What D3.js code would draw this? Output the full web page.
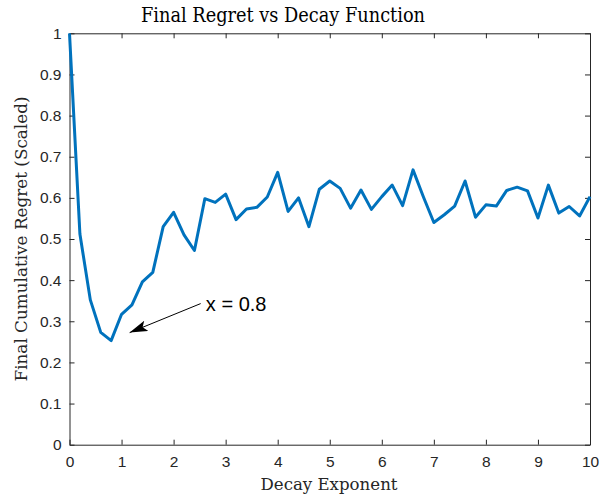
<!DOCTYPE html>
<html>
<head>
<meta charset="utf-8">
<script src="https://cdn.jsdelivr.net/npm/d3@7"></script>
<style>
    body { margin: 0; background: #fff; }
    svg { display: block; }
</style>
</head>
<body>
<svg id="chart" width="613" height="497"></svg>
<script>
// decay exponents (step 0.2) and scaled final regret
const exponents = d3.range(51).map(i => +(i * 0.2).toFixed(1));
const regret = [
    1.000, 0.512, 0.352, 0.273, 0.253, 0.317, 0.340, 0.396, 0.419, 0.530,
    0.565, 0.510, 0.472, 0.598, 0.589, 0.609, 0.547, 0.573, 0.577, 0.602,
    0.662, 0.567, 0.600, 0.530, 0.621, 0.641, 0.623, 0.575, 0.619, 0.572,
    0.603, 0.631, 0.581, 0.668, 0.602, 0.540, 0.559, 0.580, 0.641, 0.553,
    0.583, 0.580, 0.618, 0.626, 0.617, 0.551, 0.631, 0.563, 0.579, 0.556,
    0.603,
];
const xTicks = d3.range(0, 11, 1);
const yTicks = d3.range(0, 11).map(i => +(i / 10).toFixed(1));
const annotation = { text: 'x = 0.8', x: 0.8 };

const svg = d3.select('#chart');
const margin = { left: 69.5, right: 23, top: 33.3, bottom: 52.3 };
const width = 613 - margin.left - margin.right;
const height = 497 - margin.top - margin.bottom;

const x = d3.scaleLinear().domain([0, 10]).range([0, width]);
const y = d3.scaleLinear().domain([0, 1]).range([height, 0]);

const g = svg.append('g')
    .attr('transform', `translate(${margin.left},${margin.top})`);

const axisColor = '#262626';
const tickFont = "'Liberation Sans', Arial, sans-serif";
const serif = "'DejaVu Serif', 'Liberation Serif', serif";

// ticks point inward, box on all four sides
function styleAxis(sel) {
    sel.select('.domain').attr('stroke', axisColor).attr('stroke-width', 1);
    sel.selectAll('.tick line').attr('stroke', axisColor);
    sel.selectAll('.tick text')
        .attr('fill', axisColor)
        .attr('font-family', tickFont)
        .attr('font-size', 15.5);
}

g.append('g')
    .attr('transform', `translate(0,${height})`)
    .call(d3.axisBottom(x).tickValues(xTicks).tickSize(-5).tickSizeOuter(0).tickPadding(11).tickFormat(d3.format('d')))
    .call(styleAxis);
g.append('g')
    .call(d3.axisTop(x).tickValues(xTicks).tickSize(-5).tickSizeOuter(0).tickFormat(''))
    .call(styleAxis);
g.append('g')
    .call(d3.axisLeft(y).tickValues(yTicks).tickSize(-5).tickSizeOuter(0).tickPadding(8).tickFormat(d => (d === 0 || d === 1) ? d3.format('d')(d) : d3.format('.1f')(d)))
    .call(styleAxis);
g.append('g')
    .attr('transform', `translate(${width},0)`)
    .call(d3.axisRight(y).tickValues(yTicks).tickSize(-5).tickSizeOuter(0).tickFormat(''))
    .call(styleAxis);

const line = d3.line()
    .x((d, i) => x(exponents[i]))
    .y(d => y(d));

g.append('path')
    .datum(regret)
    .attr('fill', 'none')
    .attr('stroke', '#0072BD')
    .attr('stroke-width', 3)
    .attr('stroke-linejoin', 'round')
    .attr('d', line);

// text arrow pointing at the minimum
svg.append('defs').append('marker')
    .attr('id', 'head')
    .attr('viewBox', '0 0 18 11')
    .attr('refX', 18)
    .attr('refY', 5.5)
    .attr('markerWidth', 18)
    .attr('markerHeight', 11)
    .attr('markerUnits', 'userSpaceOnUse')
    .attr('orient', 'auto')
    .append('path')
    .attr('d', 'M0,0 L18,5.5 L0,11 L4,5.5 Z')
    .attr('fill', '#000');

const minY = regret[exponents.indexOf(annotation.x)];
const tipX = x(annotation.x) + 18.5;
const tipY = y(minY) - 8;
g.append('line')
    .attr('x1', x(2.52))
    .attr('y1', y(0.343))
    .attr('x2', tipX)
    .attr('y2', tipY)
    .attr('stroke', '#000')
    .attr('stroke-width', 1)
    .attr('marker-end', 'url(#head)');
g.append('text')
    .attr('x', x(2.62))
    .attr('y', y(0.343))
    .attr('dy', '0.36em')
    .attr('font-family', tickFont)
    .attr('font-size', 20)
    .attr('fill', '#000')
    .text(annotation.text);

svg.append('text')
    .attr('x', 283)
    .attr('y', 22)
    .attr('text-anchor', 'middle')
    .attr('font-family', serif)
    .attr('font-size', 20)
    .attr('fill', '#000')
    .attr('textLength', 284)
    .attr('lengthAdjust', 'spacingAndGlyphs')
    .text('Final Regret vs Decay Function');

svg.append('text')
    .attr('x', 329)
    .attr('y', 490)
    .attr('text-anchor', 'middle')
    .attr('font-family', serif)
    .attr('font-size', 16)
    .attr('fill', axisColor)
    .attr('textLength', 137)
    .attr('lengthAdjust', 'spacingAndGlyphs')
    .text('Decay Exponent');

svg.append('text')
    .attr('transform', `translate(27,${margin.top + height / 2}) rotate(-90)`)
    .attr('text-anchor', 'middle')
    .attr('font-family', serif)
    .attr('font-size', 16)
    .attr('fill', axisColor)
    .attr('textLength', 285)
    .attr('lengthAdjust', 'spacingAndGlyphs')
    .text('Final Cumulative Regret (Scaled)');
</script>
</body>
</html>
